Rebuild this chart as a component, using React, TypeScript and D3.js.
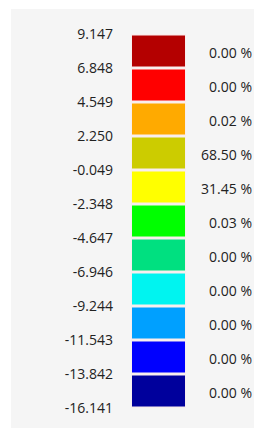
import React from "react";
import * as d3 from "d3";

const boundaries = [9.147, 6.848, 4.549, 2.25, -0.049, -2.348, -4.647, -6.946, -9.244, -11.543, -13.842, -16.141];
const boundaryLabels = ["9.147", "6.848", "4.549", "2.250", "-0.049", "-2.348", "-4.647", "-6.946", "-9.244", "-11.543", "-13.842", "-16.141"];
const percentages = ["0.00 %", "0.00 %", "0.02 %", "68.50 %", "31.45 %", "0.03 %", "0.00 %", "0.00 %", "0.00 %", "0.00 %", "0.00 %"];
const colors = ["#b40000", "#ff0000", "#ffaa00", "#cccc00", "#ffff00", "#00ff00", "#00e080", "#00f4f0", "#00a0ff", "#0000ff", "#00009c"];

export default function App() {
  const W = 254, H = 428;
  const y = d3.scaleLinear().domain([boundaries[0], boundaries[boundaries.length - 1]]).range([34, 408]);
  const font = "'Open Sans', 'Noto Sans', sans-serif";
  return (
    <svg width={W} height={H} style={{ position: "fixed", left: 0, top: 0, display: "block" }}>
      <rect x={0} y={0} width={W} height={H} fill="#ffffff" />
      <rect x={11} y={9} width={W - 11} height={H - 9} fill="#f5f5f5" />
      {colors.map((c, i) => {
        const y0 = y(boundaries[i]);
        const y1 = y(boundaries[i + 1]);
        return (
          <g key={i}>
            <rect x={131} y={y0} width={55} height={y1 - y0} fill="#fbe9e9" opacity={0.6} />
            <rect x={132} y={y0 + 1.5} width={53} height={y1 - y0 - 3} fill={c} />
          </g>
        );
      })}
      {boundaryLabels.map((t, i) => (
        <text key={t} x={113} y={y(boundaries[i])} dy="0.35em" textAnchor="end" fontFamily={font} fontSize={14} fill="#222">
          {t}
        </text>
      ))}
      {percentages.map((p, i) => (
        <text key={i} x={252} y={(y(boundaries[i]) + y(boundaries[i + 1])) / 2 + 2} dy="0.35em" textAnchor="end" fontFamily={font} fontSize={14} fill="#222">
          {p}
        </text>
      ))}
    </svg>
  );
}
